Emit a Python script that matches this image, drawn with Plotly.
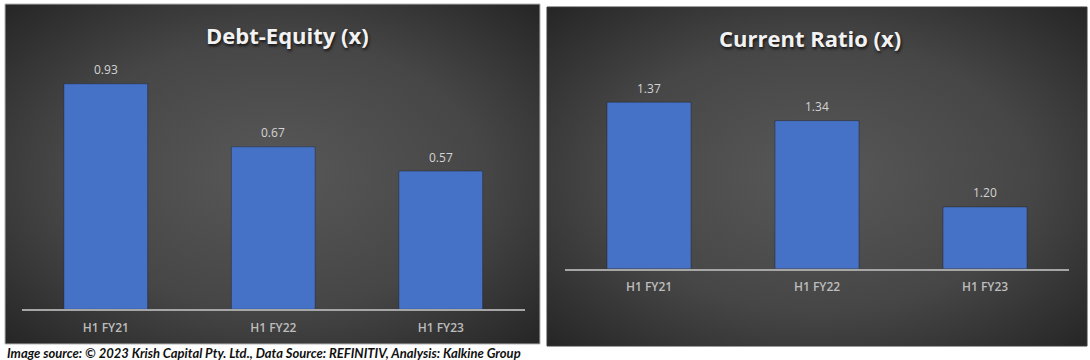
import base64
import plotly.graph_objects as go

W, H = 1090, 360

# ---- data ----
periods = ["H1 FY21", "H1 FY22", "H1 FY23"]
debt_equity = [0.93, 0.67, 0.57]
current_ratio = [1.37, 1.34, 1.20]
title_left = "Debt-Equity (x)"
title_right = "Current Ratio (x)"
footer = "Image source: © 2023 Krish Capital Pty. Ltd., Data Source: REFINITIV, Analysis: Kalkine Group"

BAR = "#4571c6"
LABEL = "#d4d4d4"
TICK = "#bdbdbd"
AXIS = "#a6a6a6"


def px_x(v):
    return v / W


def px_y(v):
    return 1 - v / H


def grad_uri():
    svg = ("<svg xmlns='http://www.w3.org/2000/svg' width='100' height='100' viewBox='0 0 100 100' "
           "preserveAspectRatio='none'><defs><radialGradient id='g' cx='50%' cy='50%' r='72%'>"
           "<stop offset='0' stop-color='#585858'/><stop offset='0.55' stop-color='#464646'/>"
           "<stop offset='1' stop-color='#242424'/></radialGradient></defs>"
           "<rect width='100' height='100' fill='url(#g)'/></svg>")
    return "data:image/svg+xml;base64," + base64.b64encode(svg.encode()).decode()


fig = go.Figure()

for vals, xa, ya in [(debt_equity, "x", "y"), (current_ratio, "x2", "y2")]:
    fig.add_trace(go.Bar(
        x=periods, y=vals, xaxis=xa, yaxis=ya,
        marker=dict(color=BAR, line=dict(color="rgba(20,20,20,0.35)", width=1)),
        cliponaxis=False, hoverinfo="skip", showlegend=False,
    ))

value_labels = []
for vals, xa, ya in [(debt_equity, "x", "y"), (current_ratio, "x2", "y2")]:
    for p, v in zip(periods, vals):
        value_labels.append(dict(
            text=f"{v:.2f}", x=p, y=v, xref=xa, yref=ya, yshift=14,
            xanchor="center", yanchor="middle", showarrow=False,
            font=dict(family="Open Sans", size=12, color=LABEL)))

tickfont = dict(family="Open Sans", size=12, color=TICK, weight=600)
xcommon = dict(showline=True, linecolor=AXIS, linewidth=2, showgrid=False, zeroline=False,
               ticks="", tickfont=tickfont, ticklabelstandoff=6, fixedrange=True)
ycommon = dict(showline=False, showgrid=False, zeroline=False, showticklabels=False,
               ticks="", fixedrange=True)

top_px = 60
title_font = dict(family="Open Sans", size=22, color="#f2f2f2",
                  shadow="1px 2px 3px rgba(0,0,0,0.75)")
fig.update_layout(
    width=W, height=H,
    margin=dict(l=0, r=0, t=0, b=0),
    paper_bgcolor="white", plot_bgcolor="rgba(0,0,0,0)",
    bargap=0.5,
    xaxis=dict(domain=[px_x(22), px_x(524.5)], anchor="y", **xcommon),
    yaxis=dict(domain=[px_y(309.3), px_y(top_px)], range=[0, (309.3 - top_px) / 242.5],
               anchor="x", **ycommon),
    xaxis2=dict(domain=[px_x(565), px_x(1069)], anchor="y2", **xcommon),
    yaxis2=dict(domain=[px_y(268.5), px_y(top_px)], range=[1.1, 1.1 + (268.5 - top_px) / 616],
                anchor="x2", **ycommon),
    images=[
        dict(source=grad_uri(), xref="paper", yref="paper", x=px_x(5), y=px_y(4),
             sizex=px_x(535), sizey=340 / H, xanchor="left", yanchor="top",
             sizing="stretch", layer="below"),
        dict(source=grad_uri(), xref="paper", yref="paper", x=px_x(547), y=px_y(7),
             sizex=px_x(540), sizey=339 / H, xanchor="left", yanchor="top",
             sizing="stretch", layer="below"),
    ],
    shapes=[
        dict(type="rect", xref="paper", yref="paper", x0=px_x(5), x1=px_x(540),
             y0=px_y(344), y1=px_y(4), line=dict(color="#b5b5b5", width=1),
             fillcolor="rgba(0,0,0,0)", layer="below"),
        dict(type="rect", xref="paper", yref="paper", x0=px_x(547), x1=px_x(1087),
             y0=px_y(346), y1=px_y(7), line=dict(color="#3a3a3a", width=1),
             fillcolor="rgba(0,0,0,0)", layer="below"),
    ],
    annotations=value_labels + [
        dict(text=f"<b>{title_left}</b>", xref="paper", yref="paper", x=px_x(287), y=px_y(35),
             xanchor="center", yanchor="middle", showarrow=False, font=title_font),
        dict(text=f"<b>{title_right}</b>", xref="paper", yref="paper", x=px_x(810), y=px_y(38.5),
             xanchor="center", yanchor="middle", showarrow=False, font=title_font),
        dict(text=f"<b><i>{footer}</i></b>", xref="paper", yref="paper", x=px_x(5), y=px_y(352.5),
             xanchor="left", yanchor="middle", showarrow=False,
             font=dict(family="Lato, sans-serif", size=13, color="#111111")),
    ],
)

fig.write_html("out.html")
